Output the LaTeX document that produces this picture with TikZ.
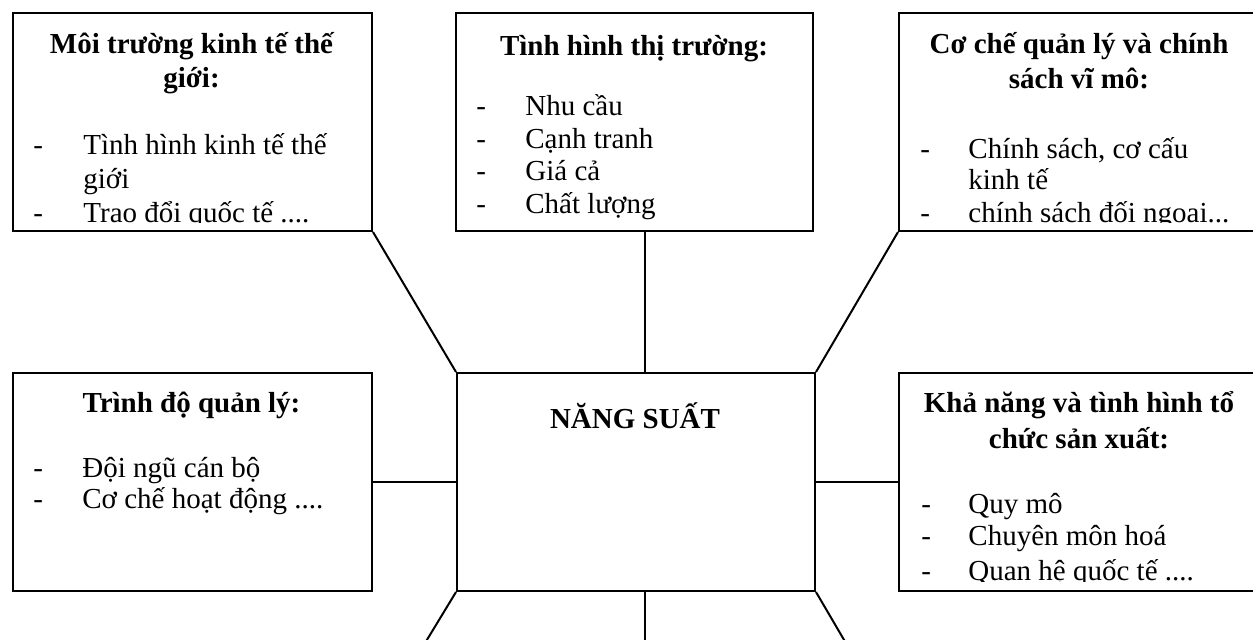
\documentclass[tikz,border=0pt]{standalone}
\usepackage{fontspec}
\setmainfont{Liberation Serif}
\usetikzlibrary{calc}
\newcommand\fsz{\fontsize{14.5pt}{17pt}\selectfont}
\begin{document}
\begin{tikzpicture}[x=0.5pt,y=-0.5pt, font=\fsz,
  box/.style={draw, line width=1pt, anchor=north west, inner sep=0pt, minimum height=109pt},
  ttl/.style={font=\fsz\bfseries, anchor=base, inner sep=0pt},
  itm/.style={anchor=base west, inner sep=0pt},
  link/.style={line width=1pt}]
\useasboundingbox (0,0) rectangle (1253,639);
\clip (0,0) rectangle (1253,639);

% boxes
\node[box, minimum width=179.5pt] (TL) at (12,12) {};
\node[box, minimum width=178.5pt] (TC) at (455,12) {};
\node[box, minimum width=181pt]   (TR) at (898,12) {};
\node[box, minimum width=179.5pt] (ML) at (12,372) {};
\node[box, minimum width=179pt]   (C)  at (456,372) {};
\node[box, minimum width=181pt]   (MR) at (898,372) {};

% connectors
\coordinate (vx) at (645,0);
\coordinate (BL) at (371,732);
\coordinate (BC) at (645,732);
\coordinate (BR) at (898,732);
\draw[link] (TL.south east) -- (C.north west);
\draw[link] (TR.south west) -- (C.north east);
\draw[link] (vx |- TC.south) -- (vx |- C.north);
\draw[link] (ML.east) -- (C.west);
\draw[link] (C.east) -- (MR.west);
\draw[link] (C.south west) -- (BL);
\draw[link] (vx |- C.south) -- (BC);
\draw[link] (C.south east) -- (BR);

\coordinate (ct) at (0,222);
\coordinate (cm) at (0,581);

% top row texts
\begin{scope}
\clip (TL.north west) rectangle (TR.east |- ct);
\node[ttl] (tl1) at (191.5,53) {Môi trường kinh tế thế};
\node[ttl] (tl2) at (191.5,87) {giới:};
\node[itm] (tld1) at (33,154) {-};
\node[itm] (tli1) at (83,154) {Tình hình kinh tế thế};
\node[itm] (tli1b) at (83,188) {giới};
\node[itm] (tld2) at (33,222) {-};
\node[itm] (tli2) at (83,222) {Trao đổi quốc tế ....};

\node[ttl] (tc1) at (634,55) {Tình hình thị trường:};
\node[itm] (tcd1) at (476,115) {-};
\node[itm] (tci1) at (525,115) {Nhu cầu};
\node[itm] (tcd2) at (476,148) {-};
\node[itm] (tci2) at (525,148) {Cạnh tranh};
\node[itm] (tcd3) at (476,180) {-};
\node[itm] (tci3) at (525,180) {Giá cả};
\node[itm] (tcd4) at (476,213) {-};
\node[itm] (tci4) at (525,213) {Chất lượng};

\node[ttl] (tr1) at (1079,53) {Cơ chế quản lý và chính};
\node[ttl] (tr2) at (1079,88) {sách vĩ mô:};
\node[itm] (trd1) at (920,158) {-};
\node[itm] (tri1) at (968,158) {Chính sách, cơ cấu};
\node[itm] (tri1b) at (968,189) {kinh tế};
\node[itm] (trd2) at (920,222) {-};
\node[itm] (tri2) at (968,222) {chính sách đối ngoại...};
\end{scope}

% middle row texts
\begin{scope}
\clip (ML.north west) rectangle (MR.east |- cm);
\node[ttl] (ml1) at (191.5,412) {Trình độ quản lý:};
\node[itm] (mld1) at (33,477) {-};
\node[itm] (mli1) at (82,477) {Đội ngũ cán bộ};
\node[itm] (mld2) at (33,508) {-};
\node[itm] (mli2) at (82,508) {Cơ chế hoạt động ....};

\node[ttl] (c1) at (635,428) {NĂNG SUẤT};

\node[ttl] (mr1) at (1079,412) {Khả năng và tình hình tổ};
\node[ttl] (mr2) at (1079,448) {chức sản xuất:};
\node[itm] (mrd1) at (921,513) {-};
\node[itm] (mri1) at (968,513) {Quy mô};
\node[itm] (mrd2) at (921,545) {-};
\node[itm] (mri2) at (968,545) {Chuyên môn hoá};
\node[itm] (mrd3) at (921,580) {-};
\node[itm] (mri3) at (968,580) {Quan hệ quốc tế ....};
\end{scope}
\end{tikzpicture}
\end{document}
